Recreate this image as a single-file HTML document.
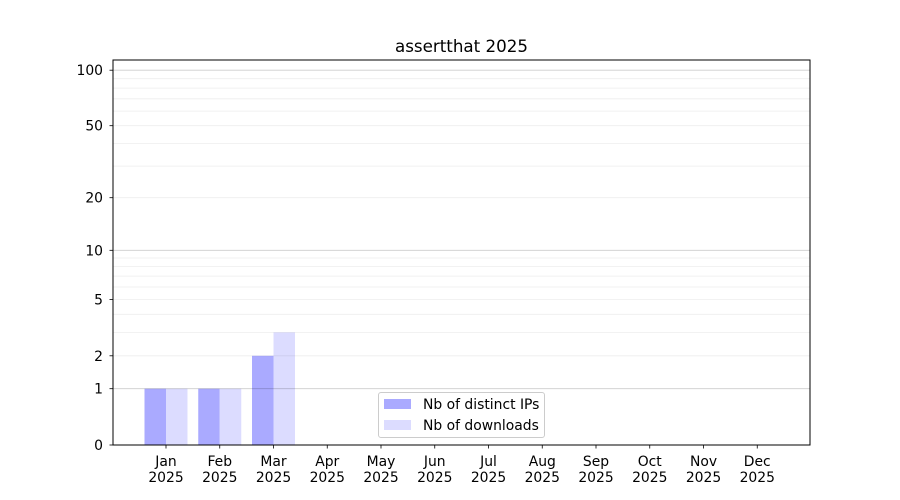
<!DOCTYPE html>
<html><head><meta charset="utf-8"><style>
html,body{margin:0;padding:0;background:#fff;}
svg{display:block;font-family:"DejaVu Sans","Liberation Sans",sans-serif;}
</style></head><body>
<svg width="900" height="500" viewBox="0 0 900 500" xmlns="http://www.w3.org/2000/svg">
<rect x="0" y="0" width="900" height="500" fill="#fff"/>
<!-- bars -->
<g>
<rect x="144.5" y="388.7" width="21.5" height="56.3" fill="#aaaaff"/>
<rect x="166" y="388.7" width="21.5" height="56.3" fill="#dcdcff"/>
<rect x="198.25" y="388.7" width="21.5" height="56.3" fill="#aaaaff"/>
<rect x="219.75" y="388.7" width="21.5" height="56.3" fill="#dcdcff"/>
<rect x="252" y="355.8" width="21.5" height="89.2" fill="#aaaaff"/>
<rect x="273.5" y="332.4" width="21.5" height="112.6" fill="#dcdcff"/>
</g>
<!-- minor grid -->
<g stroke="rgba(0,0,0,0.07)" stroke-width="0.8">
<line x1="113" x2="810" y1="355.8" y2="355.8"/>
<line x1="113" x2="810" y1="332.4" y2="332.4"/>
<line x1="113" x2="810" y1="314.3" y2="314.3"/>
<line x1="113" x2="810" y1="299.5" y2="299.5"/>
<line x1="113" x2="810" y1="287.0" y2="287.0"/>
<line x1="113" x2="810" y1="276.1" y2="276.1"/>
<line x1="113" x2="810" y1="266.6" y2="266.6"/>
<line x1="113" x2="810" y1="258.0" y2="258.0"/>
<line x1="113" x2="810" y1="197.7" y2="197.7"/>
<line x1="113" x2="810" y1="166.1" y2="166.1"/>
<line x1="113" x2="810" y1="143.4" y2="143.4"/>
<line x1="113" x2="810" y1="125.7" y2="125.7"/>
<line x1="113" x2="810" y1="111.1" y2="111.1"/>
<line x1="113" x2="810" y1="98.8" y2="98.8"/>
<line x1="113" x2="810" y1="88.1" y2="88.1"/>
<line x1="113" x2="810" y1="78.7" y2="78.7"/>
</g>
<!-- major grid -->
<g stroke="rgba(0,0,0,0.2)" stroke-width="0.8">
<line x1="113" x2="810" y1="388.7" y2="388.7"/>
<line x1="113" x2="810" y1="250.3" y2="250.3"/>
<line x1="113" x2="810" y1="70.2" y2="70.2"/>
</g>
<!-- axes frame -->
<rect x="113" y="60" width="697" height="385" fill="none" stroke="#000" stroke-width="1"/>
<!-- y ticks -->
<g stroke="#000" stroke-width="0.8">
<line x1="109.5" x2="113" y1="445" y2="445"/>
<line x1="109.5" x2="113" y1="388.7" y2="388.7"/>
<line x1="109.5" x2="113" y1="355.8" y2="355.8"/>
<line x1="109.5" x2="113" y1="299.5" y2="299.5"/>
<line x1="109.5" x2="113" y1="250.3" y2="250.3"/>
<line x1="109.5" x2="113" y1="197.7" y2="197.7"/>
<line x1="109.5" x2="113" y1="125.7" y2="125.7"/>
<line x1="109.5" x2="113" y1="70.2" y2="70.2"/>
</g>
<g font-size="13.9" text-anchor="end" fill="#000">
<text x="103" y="450">0</text>
<text x="103" y="393.7">1</text>
<text x="103" y="360.8">2</text>
<text x="103" y="304.5">5</text>
<text x="103" y="255.3">10</text>
<text x="103" y="202.7">20</text>
<text x="103" y="130.7">50</text>
<text x="103" y="75.2">100</text>
</g>
<!-- x ticks -->
<g stroke="#000" stroke-width="0.8">
<line x1="166" x2="166" y1="445" y2="448.5"/>
<line x1="219.75" x2="219.75" y1="445" y2="448.5"/>
<line x1="273.5" x2="273.5" y1="445" y2="448.5"/>
<line x1="327.25" x2="327.25" y1="445" y2="448.5"/>
<line x1="381" x2="381" y1="445" y2="448.5"/>
<line x1="434.75" x2="434.75" y1="445" y2="448.5"/>
<line x1="488.5" x2="488.5" y1="445" y2="448.5"/>
<line x1="542.25" x2="542.25" y1="445" y2="448.5"/>
<line x1="596" x2="596" y1="445" y2="448.5"/>
<line x1="649.75" x2="649.75" y1="445" y2="448.5"/>
<line x1="703.5" x2="703.5" y1="445" y2="448.5"/>
<line x1="757.25" x2="757.25" y1="445" y2="448.5"/>
</g>
<g font-size="13.9" text-anchor="middle" fill="#000">
<text x="166" y="466">Jan</text><text x="166" y="482">2025</text>
<text x="219.75" y="466">Feb</text><text x="219.75" y="482">2025</text>
<text x="273.5" y="466">Mar</text><text x="273.5" y="482">2025</text>
<text x="327.25" y="466">Apr</text><text x="327.25" y="482">2025</text>
<text x="381" y="466">May</text><text x="381" y="482">2025</text>
<text x="434.75" y="466">Jun</text><text x="434.75" y="482">2025</text>
<text x="488.5" y="466">Jul</text><text x="488.5" y="482">2025</text>
<text x="542.25" y="466">Aug</text><text x="542.25" y="482">2025</text>
<text x="596" y="466">Sep</text><text x="596" y="482">2025</text>
<text x="649.75" y="466">Oct</text><text x="649.75" y="482">2025</text>
<text x="703.5" y="466">Nov</text><text x="703.5" y="482">2025</text>
<text x="757.25" y="466">Dec</text><text x="757.25" y="482">2025</text>
</g>
<!-- title -->
<text x="461.5" y="52" font-size="16.7" text-anchor="middle" fill="#000">assertthat 2025</text>
<!-- legend -->
<rect x="378.5" y="392.5" width="166" height="45" rx="2.5" ry="2.5" fill="rgba(255,255,255,0.8)" stroke="#cccccc" stroke-width="1"/>
<rect x="384" y="399" width="27" height="10" fill="#aaaaff"/>
<rect x="384" y="420" width="27" height="10" fill="#dcdcff"/>
<g font-size="13.9" fill="#000">
<text x="423" y="409">Nb of distinct IPs</text>
<text x="423" y="430">Nb of downloads</text>
</g>
</svg>
</body></html>
